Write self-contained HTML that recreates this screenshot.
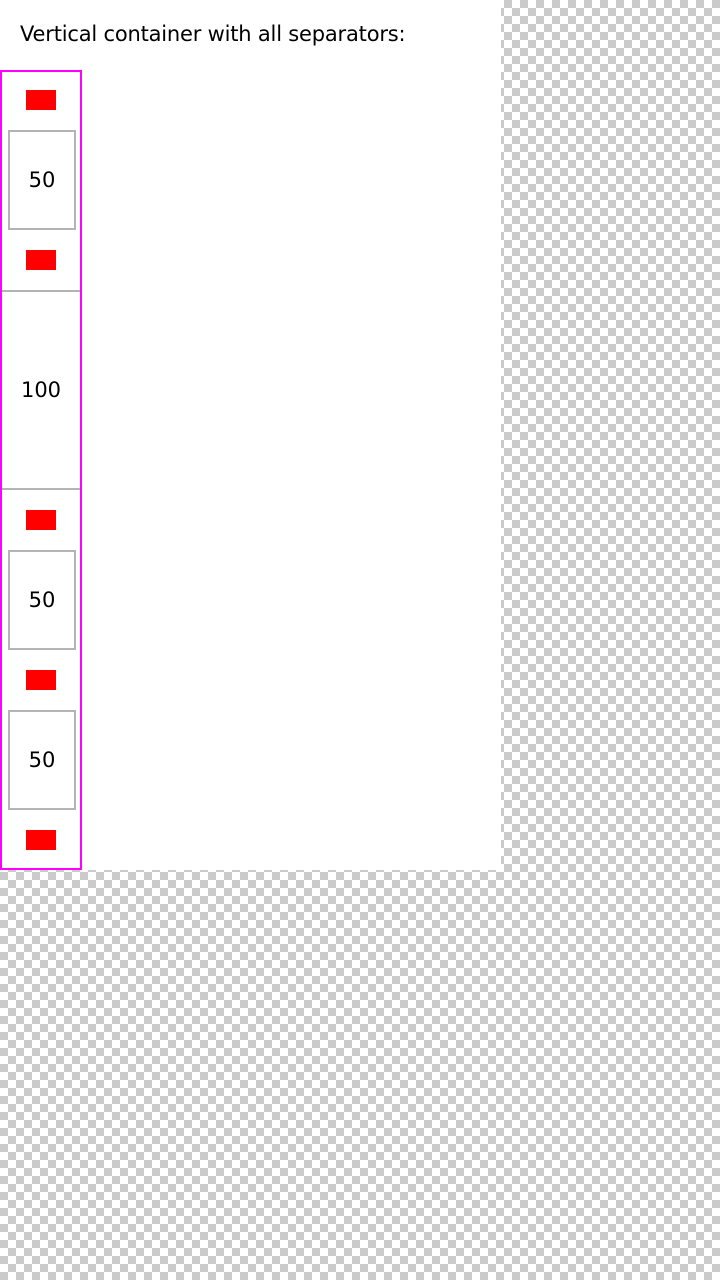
<!DOCTYPE html>
<html><head><style>
body{margin:0;width:720px;height:1280px;position:relative;overflow:hidden;
background-color:#fff;
background-image:repeating-conic-gradient(#cbcbcb 0 25%,#fff 0 50%);
background-size:16px 16px;font-family:"DejaVu Sans","Liberation Sans",sans-serif;}
.a{position:absolute;box-sizing:border-box}
.panel{left:0;top:0;width:501px;height:870px;background:#fff}
.title{left:20px;top:22px;font-size:21px;color:#000;white-space:nowrap;letter-spacing:-0.2px}
.cont{left:0;top:70px;width:82px;height:800px;border:2px solid #f0f}
.red{width:30px;height:20px;background:#f00;left:26px}
.box{left:8px;width:68px;height:100px;border:2px solid #b4b4b4;font-size:21px;display:flex;align-items:center;justify-content:center}
.sep{left:2px;width:78px;height:2px;background:#b4b4b4}
.big{left:2px;top:292px;width:78px;height:196px;font-size:21px;display:flex;align-items:center;justify-content:center}
</style></head><body>
<div class="a panel"></div>
<div class="a title">Vertical container with all separators:</div>
<div class="a cont"></div>
<div class="a red" style="top:90px"></div>
<div class="a box" style="top:130px">50</div>
<div class="a red" style="top:250px"></div>
<div class="a sep" style="top:290px"></div>
<div class="a big">100</div>
<div class="a sep" style="top:488px"></div>
<div class="a red" style="top:510px"></div>
<div class="a box" style="top:550px">50</div>
<div class="a red" style="top:670px"></div>
<div class="a box" style="top:710px">50</div>
<div class="a red" style="top:830px"></div>
</body></html>
